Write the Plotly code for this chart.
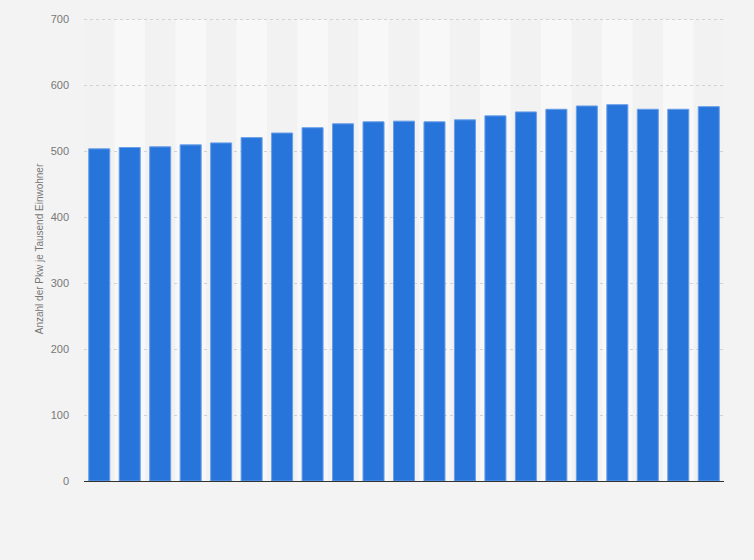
import plotly.graph_objects as go

# Kategorien (Jahre, im Original ohne Beschriftung)
jahre = [str(j) for j in range(2000, 2021)]
pkw_je_tausend = [504, 506, 507, 510, 513, 521, 528, 536, 542, 545, 546,
                  545, 548, 554, 560, 564, 569, 571, 564, 564, 568]
y_ticks = [0, 100, 200, 300, 400, 500, 600, 700]

fig = go.Figure()

fig.add_trace(go.Bar(
    x=list(range(len(jahre))),
    y=pkw_je_tausend,
    width=0.69,
    marker=dict(color="#2775db", line=dict(color="#6a9fe8", width=1)),
    hovertext=jahre,
    showlegend=False,
))

# abwechselnde Hintergrundstreifen
shapes = []
for i in range(len(jahre)):
    if i % 2 == 1:
        shapes.append(dict(type="rect", xref="x", yref="y",
                           x0=i - 0.5, x1=i + 0.5, y0=0, y1=700,
                           fillcolor="#f8f8f8", line=dict(width=0), layer="below"))

fig.update_layout(
    width=754, height=560,
    paper_bgcolor="#f3f3f3",
    plot_bgcolor="#f2f2f2",
    margin=dict(l=84, r=30, t=17, b=79),
    font=dict(family="Liberation Sans, Arial, sans-serif", color="#777777"),
    shapes=shapes,
    bargap=0.3,
)

fig.update_xaxes(
    range=[-0.5, len(jahre) - 0.5],
    showticklabels=False,
    showgrid=False,
    zeroline=False,
    showline=True, linecolor="#333333", linewidth=1,
    fixedrange=True,
)

fig.update_yaxes(
    range=[0, 704],
    tickvals=y_ticks,
    tickfont=dict(size=11, color="#777777"),
    ticklabelstandoff=14,
    showgrid=True, gridcolor="#d2d2d2", griddash="dot", gridwidth=1,
    zeroline=False,
    title=dict(text="Anzahl der Pkw je Tausend Einwohner",
               font=dict(size=10, color="#777777"), standoff=5),
    automargin=False,
    fixedrange=True,
)

fig.write_html("out.html", config={"displayModeBar": False},
               post_script="document.body.style.margin='0';document.body.style.background='#f3f3f3';")
